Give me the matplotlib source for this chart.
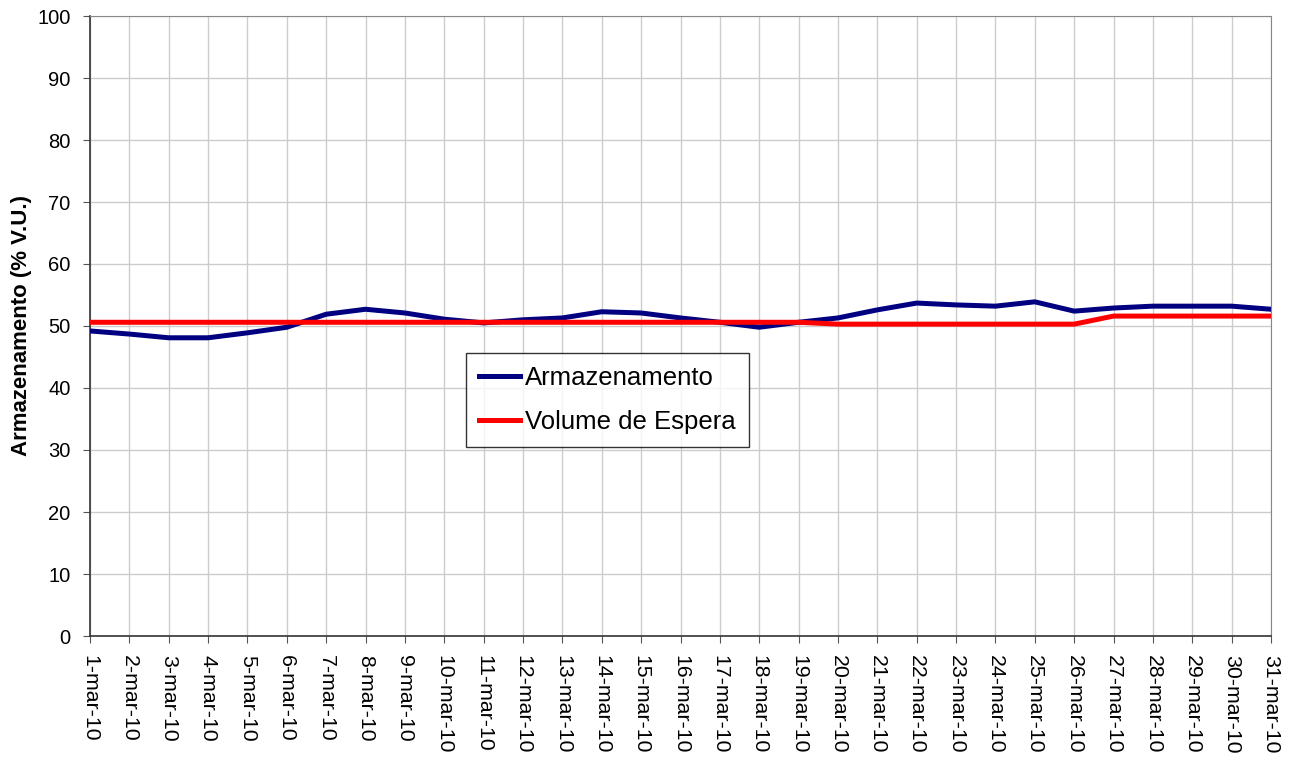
import matplotlib
matplotlib.use("Agg")
import matplotlib.pyplot as plt

# Daily storage (% of useful volume) and the target waiting volume, March 2010
days = [f"{d}-mar-10" for d in range(1, 32)]
armazenamento = [49.2, 48.7, 48.1, 48.1, 48.9, 49.8, 51.9, 52.7, 52.1, 51.1,
                 50.5, 51.0, 51.3, 52.3, 52.1, 51.3, 50.6, 49.8, 50.6, 51.3,
                 52.6, 53.7, 53.4, 53.2, 53.9, 52.4, 52.9, 53.2, 53.2, 53.2,
                 52.7]
volume_espera = [50.6] * 19 + [50.3] * 7 + [51.6] * 5

plt.rcParams["font.family"] = ["Liberation Sans", "DejaVu Sans"]

fig = plt.figure(figsize=(12.91, 7.58), dpi=100)
ax = fig.add_axes([90 / 1291, 1 - 636 / 758, 1181 / 1291, 620 / 758])

x = list(range(len(days)))
ax.plot(x, armazenamento, color="#000080", linewidth=3.6, label="Armazenamento",
        solid_joinstyle="round", zorder=3)
ax.plot(x, volume_espera, color="#ff0000", linewidth=3.6, label="Volume de Espera",
        solid_joinstyle="round", zorder=3)

ax.set_xlim(0, len(days) - 1)
ax.set_ylim(0, 100)
ax.set_xticks(x)
ax.set_xticklabels(days, rotation=-90, fontsize=15.3)
ax.set_yticks(range(0, 101, 10))
ax.tick_params(axis="y", labelsize=14.5, direction="out", length=5, color="#555555", pad=9)
ax.tick_params(axis="x", direction="out", length=5, color="#555555", pad=9)
ax.grid(True, color="#cccccc", linewidth=1)
ax.set_axisbelow(True)

for side in ("top", "right"):
    ax.spines[side].set_color("#888888")
for side in ("left", "bottom"):
    ax.spines[side].set_color("#333333")
    ax.spines[side].set_linewidth(1.2)

ax.set_ylabel("Armazenamento (% V.U.)", fontsize=16, fontweight="bold")
ax.yaxis.set_label_coords(-58 / 1181, 0.5)

leg = ax.legend(loc="upper left", bbox_to_anchor=((466 - 90) / 1181, (636 - 353) / 620),
                fontsize=18.5, frameon=True, fancybox=False, handlelength=1.6,
                borderpad=0.5, labelspacing=0.8, handletextpad=0.2,
                borderaxespad=0)
leg.get_frame().set_edgecolor("#000000")
leg.get_frame().set_linewidth(1.0)

fig.savefig("out.png", dpi=100)
